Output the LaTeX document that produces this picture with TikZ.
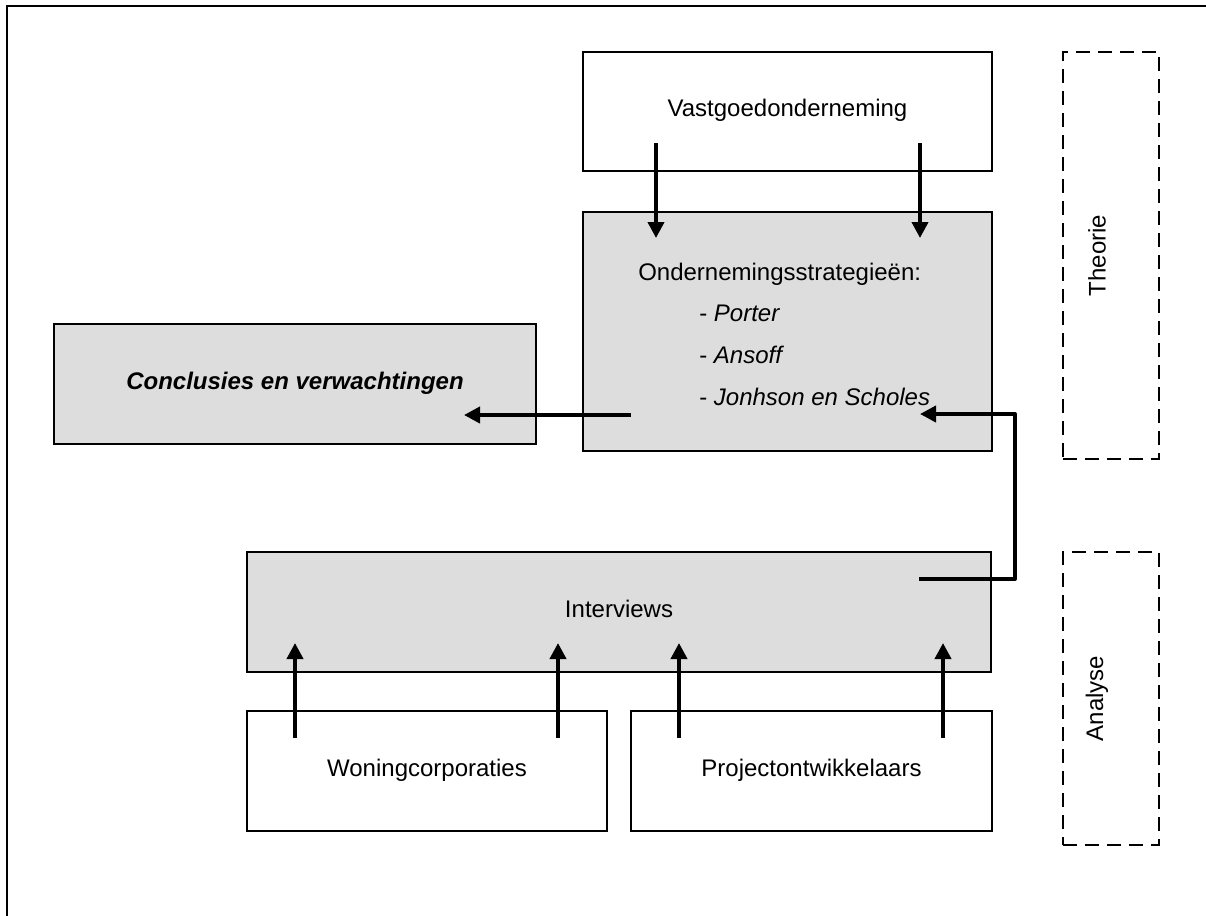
\documentclass[tikz,border=0pt]{standalone}
\usepackage{fontspec}
\setmainfont{Liberation Sans}
\usetikzlibrary{arrows.meta}
\definecolor{panelgrey}{RGB}{221,221,221}
\begin{document}
\begin{tikzpicture}[x=0.75pt,y=-0.75pt,
  every node/.style={font=\fontsize{18pt}{21pt}\selectfont},
  box/.style={draw, line width=1.3pt, inner sep=0pt, text height=13pt, text depth=5pt},
  shaded/.style={box, fill=panelgrey},
  phase/.style={draw, line width=1.5pt, dash pattern=on 10.5pt off 6pt, inner sep=0pt},
  flow/.style={line width=2.9pt, -{Triangle[length=12pt,width=12pt]}, line join=round},
  item/.style={anchor=base west, inner sep=0pt},
]
\useasboundingbox (0,0) rectangle (1206,915);
\fill[white] (0,0) rectangle (1206,915);
% page frame
\draw[line width=1.6pt] (7,925) -- (7,6) -- (1215,6);

% boxes
\node[box, minimum width=306.75pt, minimum height=89.25pt] (vastgoed) at (787.5,111.5) {Vastgoedonderneming};
\node[shaded, minimum width=306.75pt, minimum height=179.25pt] (strat) at (787.5,331.5) {};
\node[item] (strattitle) at (638,280.5) {Ondernemingsstrategieën:};
\node[item] (porter) at (699,321.5) {- \textit{Porter}};
\node[item] (ansoff) at (699,363.5) {- \textit{Ansoff}};
\node[item] (johnson) at (699,405.5) {- \textit{Jonhson en Scholes}};
\node[shaded, minimum width=361.5pt, minimum height=90pt] (concl) at (295,384) {\textbf{\textit{Conclusies en verwachtingen}}};
\node[shaded, minimum width=558pt, minimum height=90pt] (interviews) at (619,612) {Interviews};
\node[box, minimum width=270pt, minimum height=90pt] (woning) at (427,771) {Woningcorporaties};
\node[box, minimum width=270.75pt, minimum height=90pt] (project) at (811.5,771) {Projectontwikkelaars};

% phase markers
\node[phase, minimum width=72pt, minimum height=305.25pt] (theorie) at (1111,255.5) {};
\node[rotate=90] (theorielabel) at (1097,255.5) {Theorie};
\node[phase, minimum width=72pt, minimum height=219.75pt] (analyse) at (1111,698.5) {};
\node[rotate=90] (analyselabel) at (1097,698.5) {Analyse};

% connector end points
\coordinate (v1a) at (656,143); \coordinate (v1b) at (656,238);
\coordinate (v2a) at (920,143); \coordinate (v2b) at (920,238);
\coordinate (sca) at (631,415); \coordinate (scb) at (464,415);
\coordinate (isa) at (919,579); \coordinate (isb) at (920,414);
\coordinate (w1a) at (295,738); \coordinate (w1b) at (295,643);
\coordinate (w2a) at (558,738); \coordinate (w2b) at (558,643);
\coordinate (p1a) at (679,738); \coordinate (p1b) at (679,643);
\coordinate (p2a) at (943,738); \coordinate (p2b) at (943,643);

% arrows
\draw[flow] (v1a) -- (v1b);
\draw[flow] (v2a) -- (v2b);
\draw[flow] (sca) -- (scb);
\draw[flow] (isa) -- ++(96,0) |- (isb);
\draw[flow] (w1a) -- (w1b);
\draw[flow] (w2a) -- (w2b);
\draw[flow] (p1a) -- (p1b);
\draw[flow] (p2a) -- (p2b);
\end{tikzpicture}
\end{document}
